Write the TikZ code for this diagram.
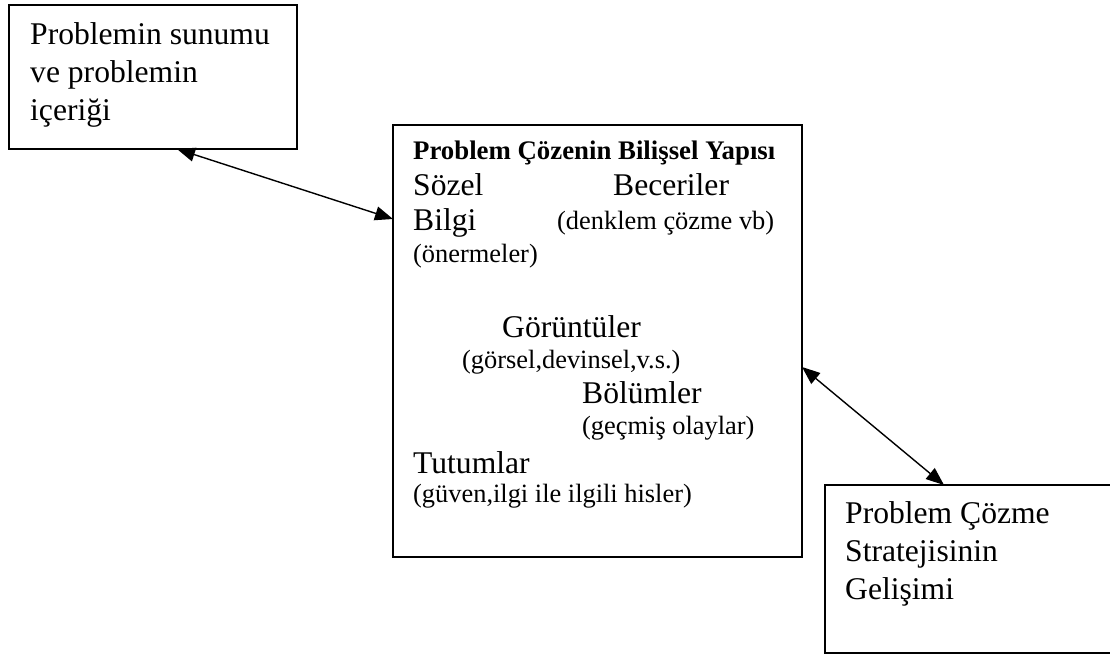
\documentclass[tikz,border=0pt]{standalone}
\usepackage{fontspec}
\setmainfont{Liberation Serif}
\usetikzlibrary{arrows.meta}
\begin{document}
\begin{tikzpicture}[x=1pt,y=-1pt,
  box/.style={draw=black, line width=1.4pt, inner sep=0pt, outer sep=0pt, anchor=north west, fill=white},
  big/.style={font=\fontsize{31.6}{38}\selectfont, inner sep=0pt, anchor=base west},
  small/.style={font=\fontsize{26.4}{31}\selectfont, inner sep=0pt, anchor=base west},
  title/.style={font=\fontsize{26.8}{31}\selectfont\bfseries, inner sep=0pt, anchor=base west},
  link/.style={line width=1.4pt, {Triangle[length=18pt,width=14pt]}-{Triangle[length=18pt,width=14pt]}}]
\useasboundingbox (0,0) rectangle (1110,655);
% boxes
\node[box, minimum width=288pt, minimum height=144pt] (b1) at (9,5) {};
\node[box, minimum width=409pt, minimum height=432pt] (b2) at (393,125) {};
\node[box, minimum width=295pt, minimum height=168pt] (b3) at (825,485) {};
% box 1 text
\node[big] (t11) at (30,45) {Problemin sunumu};
\node[big] (t12) at (30,83) {ve problemin};
\node[big] (t13) at (30,121) {içeriği};
% box 2 text
\node[title] (t20) at (413,160) {Problem Çözenin Bilişsel Yapısı};
\node[big] (t21) at (413,195) {Sözel};
\node[big] (t22) at (613,195) {Beceriler};
\node[big] (t23) at (413,230) {Bilgi};
\node[small] (t24) at (557,229) {(denklem çözme vb)};
\node[small] (t25) at (413,262) {(önermeler)};
\node[big] (t26) at (502,337) {Görüntüler};
\node[small] (t27) at (462,368) {(görsel,devinsel,v.s.)};
\node[big] (t28) at (582,403) {Bölümler};
\node[small] (t29) at (582,434) {(geçmiş olaylar)};
\node[big] (t2a) at (413,473) {Tutumlar};
\node[small] (t2b) at (413,502) {(güven,ilgi ile ilgili hisler)};
% box 3 text
\node[big] (t31) at (845,523) {Problem Çözme};
\node[big] (t32) at (845,561) {Stratejisinin};
\node[big] (t33) at (845,599) {Gelişimi};
% connectors
\draw[link] ([xshift=168pt]b1.south west) -- ([yshift=-94pt]b2.north west);
\draw[link] ([yshift=-242pt]b2.north east) -- ([xshift=119pt]b3.north west);
\end{tikzpicture}
\end{document}
